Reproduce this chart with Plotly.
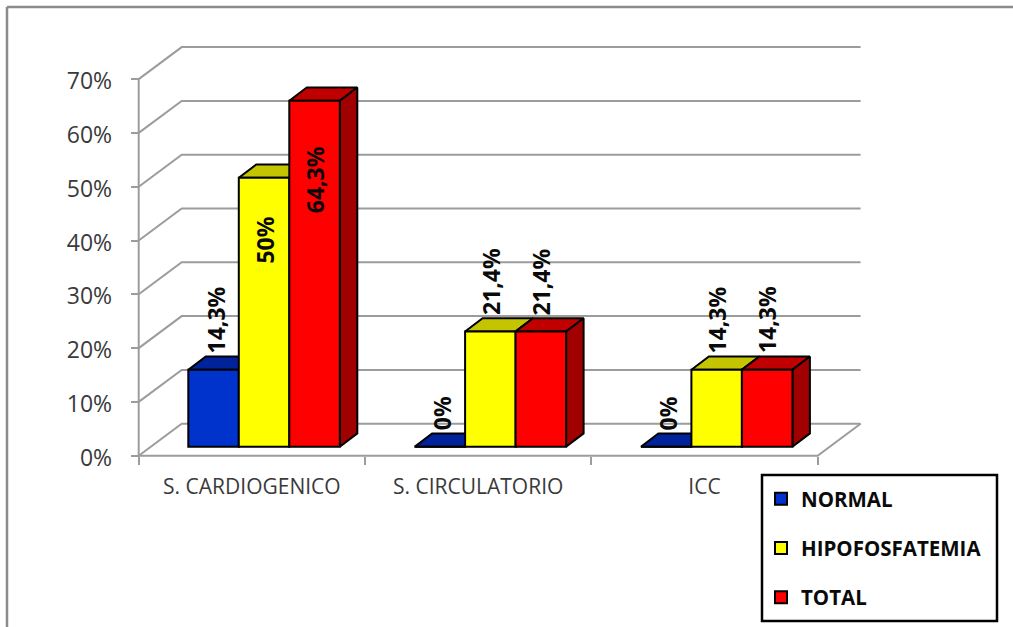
import plotly.graph_objects as go

# Chart data
categories = ["S. CARDIOGENICO", "S. CIRCULATORIO", "ICC"]
series_names = ["NORMAL", "HIPOFOSFATEMIA", "TOTAL"]
normal = [14.3, 0, 0]
hipofosfatemia = [50, 21.4, 14.3]
total = [64.3, 21.4, 14.3]
value_labels = [["14,3%", "0%", "0%"], ["50%", "21,4%", "14,3%"], ["64,3%", "21,4%", "14,3%"]]
y_ticks = [0, 10, 20, 30, 40, 50, 60, 70]

# Face colours of each series: front, top, side
front_colors = ["#0033cc", "#ffff00", "#ff0000"]
top_colors = ["#00239c", "#c4c400", "#c00000"]
side_colors = ["#00197a", "#9e9e00", "#a00000"]

# Pixel scale of the oblique projection
W, H = 1013, 627
X0, Y0 = 138.7, 455.7      # front corner of the floor
PX_CAT, PX_PCT = 226.3, 5.38
GRID = "#9c9c9c"
INK = "#3a3a3a"
LABEL_FONT = "Open Sans"

# Depth vectors, in axis units
WALL_DX, WALL_DY = 43 / PX_CAT, 32 / PX_PCT       # floor front edge to back wall
BAR_X0, BAR_Y0 = 12.2 / PX_CAT, 9 / PX_PCT        # floor front edge to bar front
BAR_DX, BAR_DY = 17.5 / PX_CAT, 13.3 / PX_PCT     # bar front to bar back
BAR_W = 50.5 / PX_CAT
GROUP_LEFT = 49.6 / PX_CAT                        # category edge to first bar
LABEL_NUDGE = [2 / PX_CAT, 0, 0]                  # sideways shift of value labels per series

fig = go.Figure()


def poly(xs, ys, fill=None, line=GRID, width=2, z=0):
    fig.add_trace(go.Scatter(
        x=xs, y=ys, mode="lines", showlegend=False, hoverinfo="skip", zorder=z,
        fill="toself" if fill else None, fillcolor=fill,
        line=dict(color=line, width=width),
    ))


# Walls and floor
n = len(categories)
for v in y_ticks:
    poly([0, WALL_DX, n + WALL_DX], [v, v + WALL_DY, v + WALL_DY])
poly([0, 0], [0, y_ticks[-1]])
poly([0, n, n + WALL_DX], [0, 0, WALL_DY])

# Bars, painted back to front in series order
all_values = [normal, hipofosfatemia, total]
for s, values in enumerate(all_values):
    xs = [c + GROUP_LEFT + s * BAR_W for c in range(n)]
    for x, v in zip(xs, values):
        base = BAR_Y0
        top = v + BAR_Y0
        poly([x, x + BAR_W, x + BAR_W + BAR_DX, x + BAR_DX, x],
             [top, top, top + BAR_DY, top + BAR_DY, top],
             fill=top_colors[s], line="#000000", z=2 * s + 1)
        poly([x + BAR_W, x + BAR_W + BAR_DX, x + BAR_W + BAR_DX, x + BAR_W, x + BAR_W],
             [base, base + BAR_DY, top + BAR_DY, top, base],
             fill=side_colors[s], line="#000000", z=2 * s + 1)
    fig.add_trace(go.Bar(
        x=xs, y=values, base=BAR_Y0, width=BAR_W, offset=0, name=series_names[s],
        legendgroup=series_names[s], zorder=2 * s + 2,
        marker=dict(color=front_colors[s], line=dict(color="#000000", width=2)),
    ))

# Rotated value labels: above the bar, except the two tall bars that carry them inside
inside_drop = {(1, 0): 10.0, (2, 0): 13.0}
for s, values in enumerate(all_values):
    for c, v in enumerate(values):
        x = c + GROUP_LEFT + s * BAR_W + BAR_W / 2 + LABEL_NUDGE[s]
        if (s, c) in inside_drop:
            y, anchor = v - inside_drop[(s, c)], "middle"
        else:
            y, anchor = v + BAR_Y0 + BAR_DY + 0.2, "bottom"
        fig.add_annotation(x=x, y=y, xref="x", yref="y", text=value_labels[s][c], textangle=-90,
                           showarrow=False, xanchor="center", yanchor=anchor,
                           font=dict(family=LABEL_FONT, size=23, color="#0a0a0a", weight="bold"))

fig.update_layout(
    width=W, height=H, margin=dict(l=0, r=0, t=0, b=0, autoexpand=False),
    paper_bgcolor="white", plot_bgcolor="white", barmode="overlay",
    font=dict(family=LABEL_FONT),
    xaxis=dict(
        domain=[0, 1], range=[-X0 / PX_CAT, (W - X0) / PX_CAT], anchor="free",
        position=(H - Y0) / H, showgrid=False, zeroline=False, showline=False,
        tickmode="array", tickvals=[c + 0.5 for c in range(n)], ticktext=categories,
        ticks="", tickfont=dict(size=21, color=INK), ticklabelstandoff=16,
        minor=dict(tickmode="array", tickvals=list(range(n + 1)), ticks="outside",
                   ticklen=8, tickwidth=2, tickcolor=GRID, showgrid=False),
    ),
    yaxis=dict(
        domain=[0, 1], range=[-(H - Y0) / PX_PCT, Y0 / PX_PCT], anchor="free",
        position=X0 / W, showgrid=False, zeroline=False, showline=False,
        tickmode="array", tickvals=y_ticks, ticktext=[f"{v}%" for v in y_ticks],
        ticks="outside", ticklen=8, tickwidth=2, tickcolor=GRID,
        tickfont=dict(size=23, color=INK), ticklabelstandoff=14, ticklabelshift=2,
    ),
    legend=dict(
        x=761 / W, y=1 - 479 / H, xanchor="left", yanchor="top", bgcolor="rgba(0,0,0,0)",
        font=dict(size=20.5, color="#0a0a0a", weight="bold"), tracegroupgap=19.5,
        traceorder="grouped",
    ),
    shapes=[
        # Outer frame of the chart area
        dict(type="line", xref="paper", yref="paper", x0=7 / W, x1=1, y0=1 - 7 / H, y1=1 - 7 / H,
             line=dict(color="#8c8c8c", width=2.5), layer="below"),
        dict(type="line", xref="paper", yref="paper", x0=7 / W, x1=7 / W, y0=0, y1=1 - 7 / H,
             line=dict(color="#8c8c8c", width=2.5), layer="below"),
        # Legend box
        dict(type="rect", xref="paper", yref="paper", x0=762 / W, x1=997 / W,
             y0=1 - 621 / H, y1=1 - 475 / H, fillcolor="white",
             line=dict(color="#000000", width=2.5), layer="above"),
    ],
)

fig.write_html("out.html")
